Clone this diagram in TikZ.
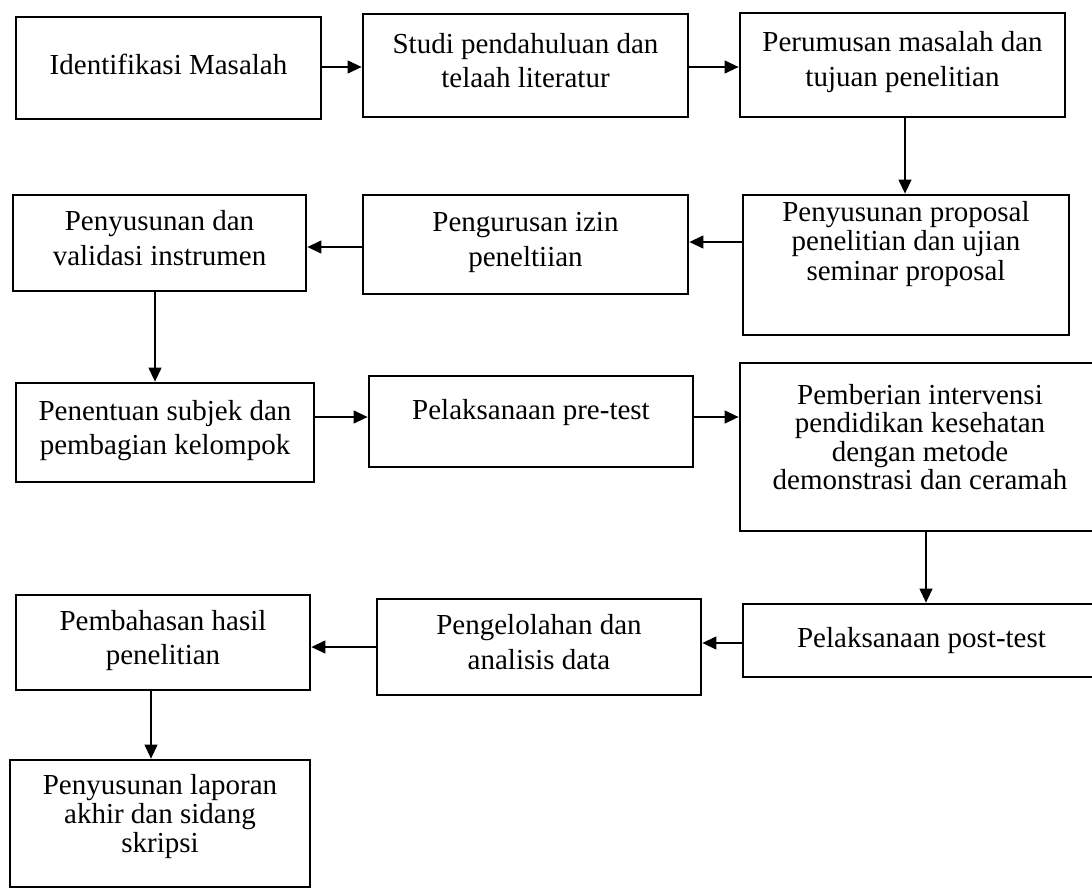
\documentclass[tikz,border=0pt]{standalone}
\usepackage{fontspec}
\setmainfont{Liberation Serif}
\usetikzlibrary{arrows.meta}
\begin{document}
\begin{tikzpicture}[x=1pt,y=-1pt,
  box/.style={draw, line width=2.8pt, rectangle, inner sep=0pt, align=center,
    font=\fontsize{29}{34.5}\selectfont,
    execute at begin node=\strut, execute at end node=\strut},
  tight/.style={font=\fontsize{29}{#1}\selectfont},
  liftby/.style={execute at end node={\rule[-\dimexpr\dp\strutbox+#1pt*2\relax]{0pt}{0pt}}},
  arr/.style={line width=1.3pt, -{Triangle[length=14pt,width=13pt]}}]
\fill[white] (0,0) rectangle (1092,889);
\useasboundingbox (0,0) rectangle (1092,889);
\clip (0,0) rectangle (1092,889);

% row 1
\node[box, minimum width=305pt, minimum height=102pt] (A) at (168.5,68) {Identifikasi Masalah};
\node[box, minimum width=325pt, minimum height=103pt] (B) at (525.5,65.5) {Studi pendahuluan dan\\telaah literatur};
\node[box, minimum width=325pt, minimum height=104pt, liftby=1] (C) at (902.5,65) {Perumusan masalah dan\\tujuan penelitian};
% row 2
\node[box, minimum width=293pt, minimum height=96pt] (D) at (159.5,243) {Penyusunan dan\\validasi instrumen};
\node[box, minimum width=325pt, minimum height=99pt] (E) at (525.5,244.5) {Pengurusan izin\\peneltiian};
\node[box, tight=29.5, minimum width=326pt, minimum height=140pt, liftby=20] (F) at (906,265) {Penyusunan proposal\\penelitian dan ujian\\seminar proposal};
% row 3
\node[box, minimum width=298pt, minimum height=99pt] (G) at (165,432.5) {Penentuan subjek dan\\pembagian kelompok};
\node[box, minimum width=324pt, minimum height=91pt, liftby=9] (H) at (531,421.5) {Pelaksanaan pre-test};
\node[box, tight=28.5, minimum width=360pt, minimum height=168pt, liftby=6] (I) at (920,447) {Pemberian intervensi\\pendidikan kesehatan\\dengan metode\\demonstrasi dan ceramah};
% row 4
\node[box, minimum width=294pt, minimum height=95pt] (J) at (163,642.5) {Pembahasan hasil\\penelitian};
\node[box, minimum width=324pt, minimum height=96pt] (K) at (539,647) {Pengelolahan dan\\analisis data};
\node[box, minimum width=357pt, minimum height=73pt] (L) at (921.5,640.5) {Pelaksanaan post-test};
% row 5
\node[box, tight=29, minimum width=300pt, minimum height=127pt, liftby=6] (M) at (160,823.5) {Penyusunan laporan\\akhir dan sidang\\skripsi};

% connector guide coordinates
\coordinate (yAB) at (0,67);
\coordinate (yBC) at (0,67);
\coordinate (xCF) at (905,0);
\coordinate (yFE) at (0,242);
\coordinate (yED) at (0,247);
\coordinate (xDG) at (155,0);
\coordinate (yGH) at (0,417);
\coordinate (yHI) at (0,417);
\coordinate (xIL) at (926,0);
\coordinate (yLK) at (0,643);
\coordinate (yKJ) at (0,647);
\coordinate (xJM) at (151,0);

\draw[arr] (A.east |- yAB) -- (B.west |- yAB);
\draw[arr] (B.east |- yBC) -- (C.west |- yBC);
\draw[arr] (C.south -| xCF) -- (F.north -| xCF);
\draw[arr] (F.west |- yFE) -- (E.east |- yFE);
\draw[arr] (E.west |- yED) -- (D.east |- yED);
\draw[arr] (D.south -| xDG) -- (G.north -| xDG);
\draw[arr] (G.east |- yGH) -- (H.west |- yGH);
\draw[arr] (H.east |- yHI) -- (I.west |- yHI);
\draw[arr] (I.south -| xIL) -- (L.north -| xIL);
\draw[arr] (L.west |- yLK) -- (K.east |- yLK);
\draw[arr] (K.west |- yKJ) -- (J.east |- yKJ);
\draw[arr] (J.south -| xJM) -- (M.north -| xJM);
\end{tikzpicture}
\end{document}
